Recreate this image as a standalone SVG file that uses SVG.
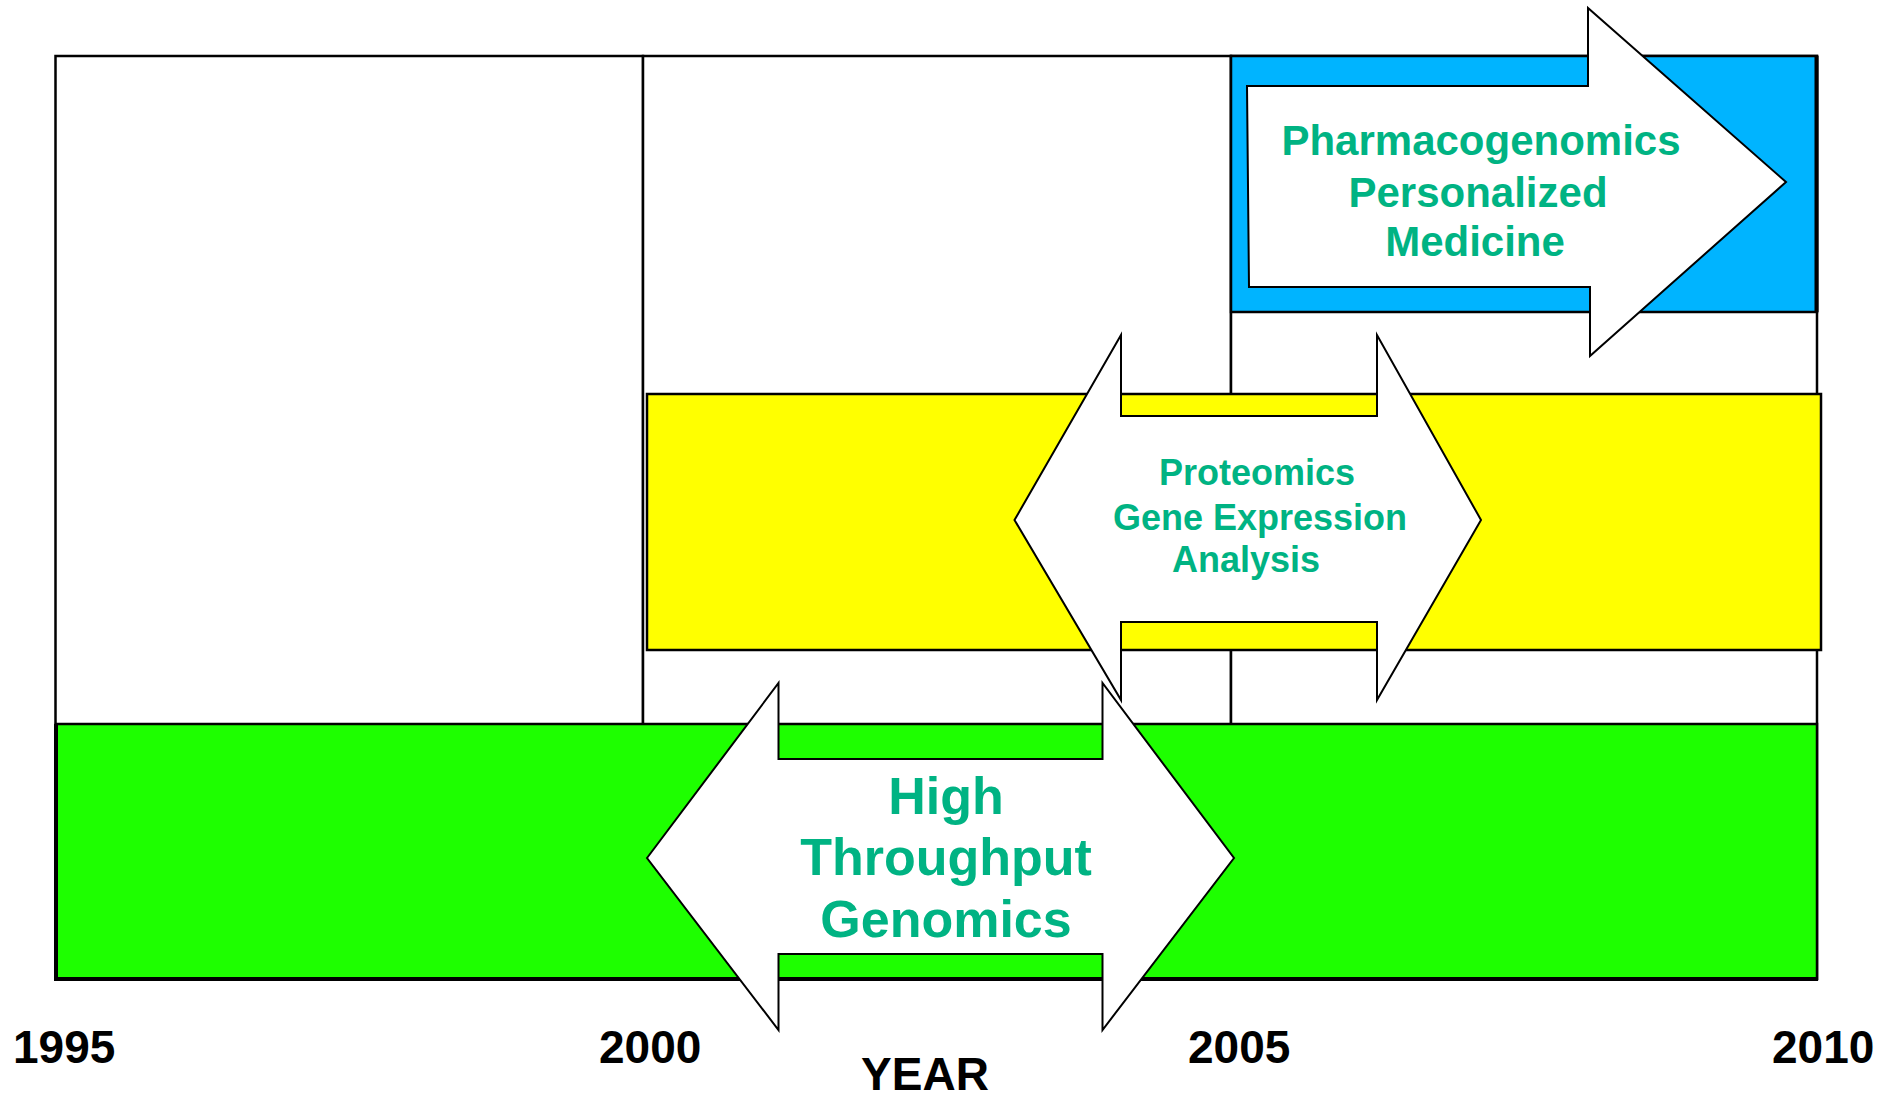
<svg xmlns="http://www.w3.org/2000/svg" width="1898" height="1094" viewBox="0 0 1898 1094">
<style>
.col{fill:#ffffff;stroke:#000;stroke-width:2.5}
.band{stroke:#000;stroke-width:2.5}
.arrow{fill:#ffffff;stroke:#000;stroke-width:2}
.lbl{font-family:"Liberation Sans",Arial,sans-serif;font-weight:bold;fill:#00B383;text-anchor:middle}
.yr{font-family:"Liberation Sans",Arial,sans-serif;font-weight:bold;fill:#000;font-size:46px}
</style>
<rect width="1898" height="1094" fill="#ffffff"/>
<g id="grid">
<rect class="col" x="55.5" y="56" width="587.5" height="923"/>
<rect class="col" x="643" y="56" width="588" height="923"/>
<rect class="col" x="1231" y="56" width="586" height="923"/>
</g>
<g id="band-blue">
<rect class="band" x="1231" y="56" width="586" height="256" fill="#00B4FF"/>
<line x1="1816.5" y1="56" x2="1816.5" y2="312" stroke="#000" stroke-width="4"/>
</g>
<g id="band-yellow">
<rect class="band" x="647" y="394" width="1174" height="256" fill="#FFFF00"/>
</g>
<g id="band-green">
<rect class="band" x="56" y="724" width="1761" height="255" fill="#1EFF00"/>
<line x1="54" y1="979" x2="1818" y2="979" stroke="#000" stroke-width="4"/>
<line x1="56" y1="724" x2="56" y2="981" stroke="#000" stroke-width="4"/>
</g>
<g id="connectors">
<polygon id="arrow-pharma" class="arrow" points="1247,86 1588,86 1588,8 1786,182 1590,356 1590,287 1249,287"/>
<polygon id="arrow-proteomics" class="arrow" points="1014.5,520 1121,335 1121,416 1377,416 1377,335 1481,520 1377,700 1377,622 1121,622 1121,700"/>
<polygon id="arrow-genomics" class="arrow" points="647,858 778.5,683 778.5,759 1102.5,759 1102.5,683 1234,858 1102.5,1030 1102.5,954 778.5,954 778.5,1030"/>
</g>
<g id="node-pharma">
<text class="lbl" font-size="42" x="1481" y="155">Pharmacogenomics</text>
<text class="lbl" font-size="42" x="1478" y="207">Personalized</text>
<text class="lbl" font-size="42" x="1475" y="256">Medicine</text>
</g>
<g id="node-proteomics">
<text class="lbl" font-size="36" x="1257" y="485">Proteomics</text>
<text class="lbl" font-size="36" x="1260" y="530">Gene Expression</text>
<text class="lbl" font-size="36" x="1246" y="572">Analysis</text>
</g>
<g id="node-genomics">
<text class="lbl" font-size="52" x="946" y="814">High</text>
<text class="lbl" font-size="52" x="946" y="875">Throughput</text>
<text class="lbl" font-size="52" x="946" y="937">Genomics</text>
</g>
<g id="axis">
<text class="yr" x="13" y="1063">1995</text>
<text class="yr" x="599" y="1063">2000</text>
<text class="yr" x="1188" y="1063">2005</text>
<text class="yr" x="1772" y="1063">2010</text>
<text class="yr" x="925" y="1090" text-anchor="middle">YEAR</text>
</g>
</svg>
